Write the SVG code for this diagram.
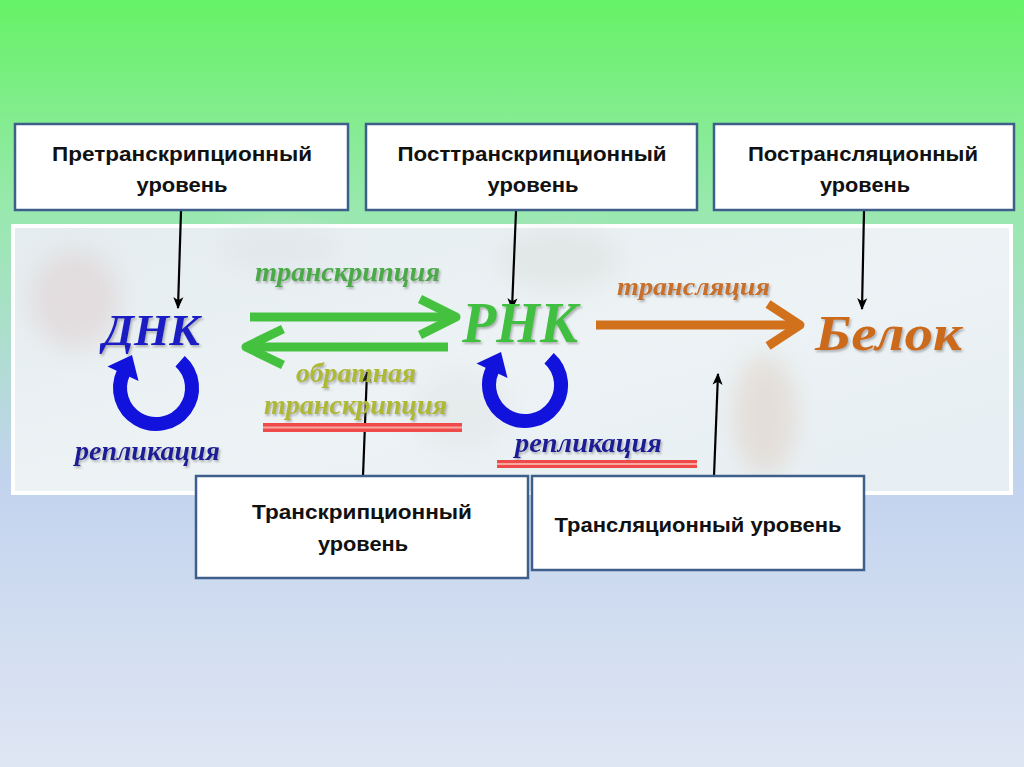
<svg xmlns="http://www.w3.org/2000/svg" width="1024" height="767" viewBox="0 0 1024 767">
<defs>
  <linearGradient id="bg" x1="0" y1="0" x2="0" y2="1">
    <stop offset="0" stop-color="#66f266"/>
    <stop offset="0.28" stop-color="#9ae8b0"/>
    <stop offset="0.62" stop-color="#c2d3ee"/>
    <stop offset="1" stop-color="#dfe6f3"/>
  </linearGradient>
  <linearGradient id="panel" x1="0" y1="0" x2="1" y2="1">
    <stop offset="0" stop-color="#e4ecef"/>
    <stop offset="0.5" stop-color="#edf3f5"/>
    <stop offset="1" stop-color="#e6eef3"/>
  </linearGradient>
  <filter id="blur" x="-50%" y="-50%" width="200%" height="200%">
    <feGaussianBlur stdDeviation="12"/>
  </filter>
  <filter id="sh" x="-10%" y="-30%" width="120%" height="160%">
    <feDropShadow dx="1.5" dy="2" stdDeviation="1.2" flood-color="#7a7a7a" flood-opacity="0.55"/>
  </filter>
  <marker id="ah" viewBox="0 0 10 10" refX="9" refY="5" markerWidth="12" markerHeight="12" orient="auto" markerUnits="userSpaceOnUse">
    <path d="M0,0.8 L10,5 L0,9.2 L2.5,5 z" fill="#000"/>
  </marker>
  <style>
    .box { fill: #ffffff; stroke: #3d5f8a; stroke-width: 2.5; }
    .bt { font-family: "Liberation Sans", Arial, sans-serif; font-weight: bold; font-size: 20px; fill: #111; text-anchor: middle; }
    .it { font-family: "Liberation Serif", "Times New Roman", serif; font-weight: bold; font-style: italic; }
    .conn { stroke: #000; stroke-width: 2.2; fill: none; marker-end: url(#ah); }
    .garrow { stroke: #44c23f; stroke-width: 9; fill: none; stroke-linejoin: round; stroke-linecap: butt; }
    .oarrow { stroke: #d2711c; stroke-width: 9; fill: none; stroke-linejoin: round; stroke-linecap: butt; }
    .ring { stroke: #1212dd; stroke-width: 14; fill: none; }
    .ringhead { fill: #1212dd; }
  </style>
</defs>

<rect x="0" y="0" width="1024" height="767" fill="url(#bg)"/>

<!-- picture panel -->
<g id="panel-area">
  <rect x="13" y="226" width="998" height="267" fill="url(#panel)" stroke="#ffffff" stroke-width="4"/>
  <g filter="url(#blur)" opacity="0.45">
    <ellipse cx="75" cy="300" rx="45" ry="50" fill="#dcc8c8"/>
    <ellipse cx="280" cy="250" rx="60" ry="25" fill="#dde2e6"/>
    <ellipse cx="560" cy="260" rx="60" ry="30" fill="#d8dcd8"/>
    <ellipse cx="765" cy="415" rx="32" ry="60" fill="#dcc8b8"/>
    <ellipse cx="460" cy="410" rx="50" ry="40" fill="#dfe3e3"/>
  </g>
</g>

<!-- connectors -->
<g id="connectors">
  <line class="conn" x1="181" y1="211" x2="178" y2="308"/>
  <line class="conn" x1="516" y1="211" x2="512" y2="309"/>
  <line class="conn" x1="864" y1="211" x2="862" y2="309"/>
  <line class="conn" x1="363" y1="476" x2="367" y2="372"/>
  <line class="conn" x1="714" y1="476" x2="718" y2="374"/>
</g>

<!-- process arrows -->
<g id="process-arrows">
  <line class="garrow" x1="250" y1="317" x2="452" y2="317"/>
  <polyline class="garrow" points="420,299 456,317 420,335"/>
  <line class="garrow" x1="448" y1="347" x2="250" y2="347"/>
  <polyline class="garrow" points="283,329 246,347 283,365"/>
  <line class="oarrow" x1="596" y1="325" x2="796" y2="325"/>
  <polyline class="oarrow" points="768,304 800,325 768,346"/>
</g>

<g id="dna">
  <text class="it" x="103" y="345" font-size="44" fill="#1c1cc4" textLength="97" lengthAdjust="spacingAndGlyphs" filter="url(#sh)">ДНК</text>
  <path class="ring" d="M180.1,361.2 A36,36 0 1 1 123.4,372.8"/>
  <polygon class="ringhead" points="132,355 107.5,366.5 138.5,381"/>
  <text class="it" x="75" y="460" font-size="27" fill="#1f1f96" textLength="145" lengthAdjust="spacingAndGlyphs" filter="url(#sh)">репликация</text>
</g>

<g id="rna">
  <text class="it" x="462" y="342" font-size="58" fill="#3fbf3f" textLength="116" lengthAdjust="spacingAndGlyphs" filter="url(#sh)">РНК</text>
  <path class="ring" d="M549.1,358.2 A36,36 0 1 1 492.4,369.8"/>
  <polygon class="ringhead" points="501,352 476.5,363.5 507.5,378"/>
  <text class="it" x="515" y="452" font-size="27" fill="#1f1f96" textLength="147" lengthAdjust="spacingAndGlyphs" filter="url(#sh)">репликация</text>
  <rect x="497" y="460" width="200" height="8" fill="#ee4a4a"/>
  <rect x="497" y="463" width="200" height="2" fill="#f7a8a0"/>
</g>

<g id="protein">
  <text class="it" x="815" y="350" font-size="50" fill="#cc6a1a" textLength="147" lengthAdjust="spacingAndGlyphs" filter="url(#sh)">Белок</text>
</g>

<g id="labels">
  <text class="it" x="255" y="281" font-size="28" fill="#4aaa46" textLength="185" lengthAdjust="spacingAndGlyphs" filter="url(#sh)">транскрипция</text>
  <text class="it" x="296" y="382" font-size="27" fill="#aeb832" textLength="120" lengthAdjust="spacingAndGlyphs" filter="url(#sh)">обратная</text>
  <text class="it" x="264" y="414" font-size="28" fill="#aeb832" textLength="183" lengthAdjust="spacingAndGlyphs" filter="url(#sh)">транскрипция</text>
  <rect x="263" y="423" width="199" height="9" fill="#ee4a4a"/>
  <rect x="263" y="426.5" width="199" height="2" fill="#f7a8a0"/>
  <text class="it" x="617" y="295" font-size="26" fill="#c8702a" textLength="153" lengthAdjust="spacingAndGlyphs" filter="url(#sh)">трансляция</text>
</g>

<!-- level boxes -->
<g id="box-pretranscription">
  <rect class="box" x="15" y="124" width="333" height="86"/>
  <text class="bt" x="182" y="161" textLength="260" lengthAdjust="spacingAndGlyphs">Претранскрипционный</text>
  <text class="bt" x="182" y="192" textLength="91" lengthAdjust="spacingAndGlyphs">уровень</text>
</g>
<g id="box-posttranscription">
  <rect class="box" x="366" y="124" width="331" height="86"/>
  <text class="bt" x="532" y="161" textLength="269" lengthAdjust="spacingAndGlyphs">Посттранскрипционный</text>
  <text class="bt" x="533" y="192" textLength="91" lengthAdjust="spacingAndGlyphs">уровень</text>
</g>
<g id="box-posttranslation">
  <rect class="box" x="714" y="124" width="300" height="86"/>
  <text class="bt" x="863" y="161" textLength="230" lengthAdjust="spacingAndGlyphs">Пострансляционный</text>
  <text class="bt" x="865" y="192" textLength="90" lengthAdjust="spacingAndGlyphs">уровень</text>
</g>
<g id="box-transcription">
  <rect class="box" x="196" y="476" width="332" height="102"/>
  <text class="bt" x="362" y="519" textLength="220" lengthAdjust="spacingAndGlyphs">Транскрипционный</text>
  <text class="bt" x="363" y="551" textLength="90" lengthAdjust="spacingAndGlyphs">уровень</text>
</g>
<g id="box-translation">
  <rect class="box" x="532" y="476" width="332" height="94"/>
  <text class="bt" x="698" y="532" textLength="287" lengthAdjust="spacingAndGlyphs">Трансляционный уровень</text>
</g>
</svg>
